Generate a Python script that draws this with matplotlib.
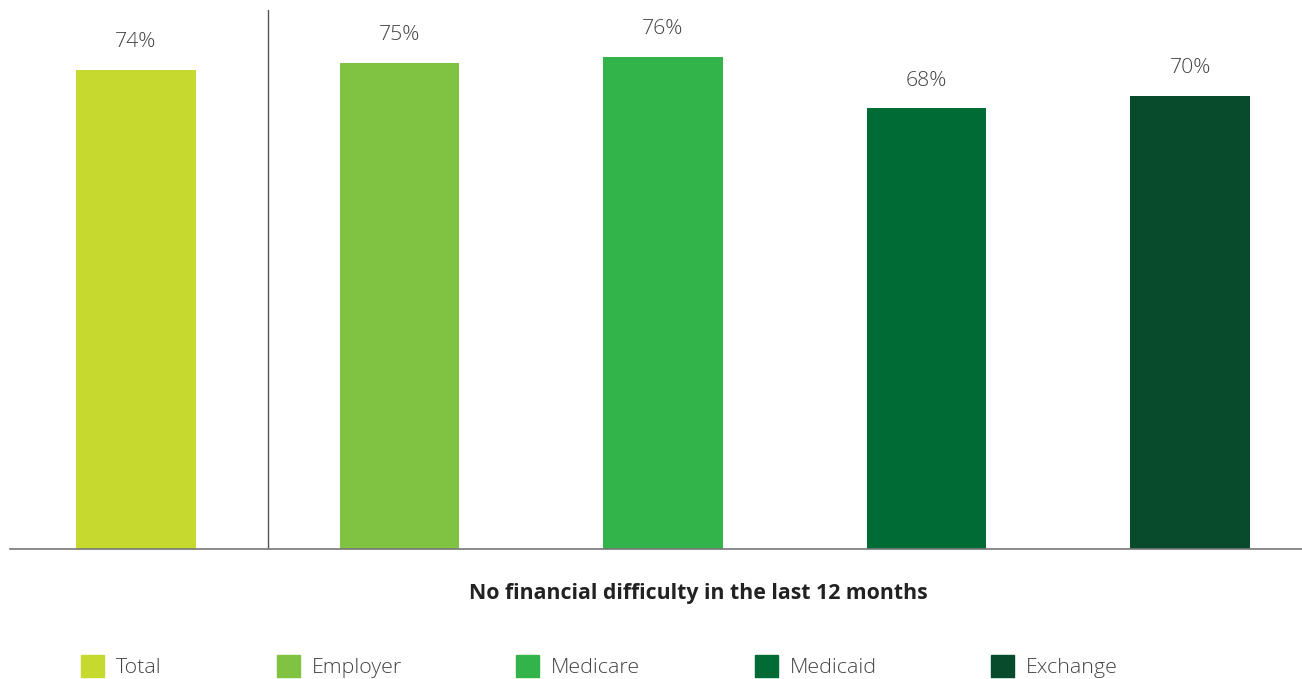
import matplotlib.pyplot as plt
from matplotlib.patches import Rectangle

# Data
categories = ['Total', 'Employer', 'Medicare', 'Medicaid', 'Exchange']
values = [74, 75, 76, 68, 70]
colors = ['#C6D92E', '#80C241', '#33B44A', '#006B35', '#084A2C']
group_label = 'No financial difficulty in the last 12 months'

plt.rcParams['font.family'] = ['Open Sans', 'DejaVu Sans']

fig = plt.figure(figsize=(13.02, 6.79), dpi=100)
ax = fig.add_axes([10 / 1302, 130 / 679, 1292 / 1302, 539 / 679])

x = list(range(len(categories)))
bars = ax.bar(x, values, width=0.455, color=colors, zorder=2)

ax.set_xlim(-0.478, 4.425)
ax.set_ylim(0, 83.2)

# Value labels
for bar, v in zip(bars, values):
    ax.annotate(f'{v}%', xy=(bar.get_x() + bar.get_width() / 2, v),
                xytext=(0, 20), textcoords='offset points',
                ha='center', va='center', fontsize=15.3, fontweight='light',
                color='#444444')

# Separator between Total and the others
ax.axvline(0.5, color='#555555', lw=1)

# Axis styling
for side in ['top', 'right', 'left']:
    ax.spines[side].set_visible(False)
ax.spines['bottom'].set_color('#777777')
ax.spines['bottom'].set_linewidth(1.2)
ax.set_xticks([])
ax.set_yticks([])

# Group label
fig.text(698 / 1302, 1 - 594 / 679, group_label, ha='center', va='center',
         fontsize=15.3, fontweight='bold', color='#222222')

# Legend drawn manually
legend_x = [81, 277, 516, 755, 991]
for lx, name, c in zip(legend_x, categories, colors):
    fig.patches.append(Rectangle((lx / 1302, 1 - 677 / 679), 23 / 1302, 22 / 679,
                                 transform=fig.transFigure, color=c))
    fig.text((lx + 35) / 1302, 1 - 668 / 679, name, ha='left', va='center',
             fontsize=15.4, fontweight='light', color='#444444')

fig.savefig('out.png', dpi=100)
